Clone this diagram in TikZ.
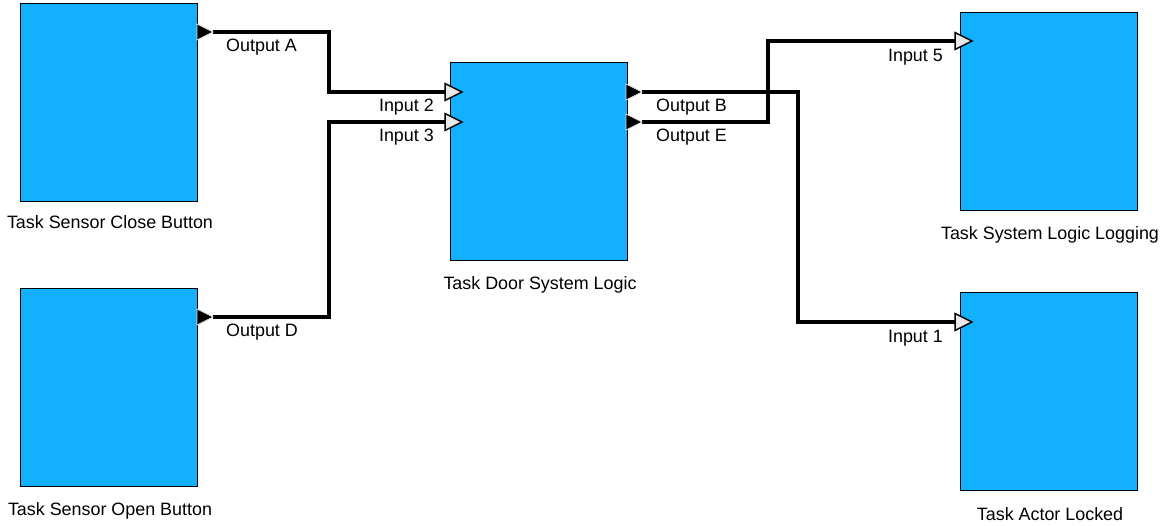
\documentclass[tikz,border=0pt]{standalone}
\usepackage{fontspec}
\setmainfont{Liberation Sans}
\definecolor{taskblue}{RGB}{18,176,255}
\definecolor{portgray}{RGB}{232,232,232}
\begin{document}
\begin{tikzpicture}[x=1pt,y=-1pt,font=\fontsize{17.9}{20}\selectfont,
  task/.style={draw=black,line width=1pt,fill=taskblue,minimum width=177pt,minimum height=198pt,inner sep=0pt,anchor=north west},
  lbl/.style={inner sep=0pt},
  wire/.style={draw=black,line width=3.5pt},
  outtri/.style={fill=black,draw=white!85!black,line width=0.8pt},
  intri/.style={fill=portgray,draw=black,line width=1.5pt,line join=miter}]
\useasboundingbox (0,0) rectangle (1169,526);
% boxes
\node[task] (close) at (20,3) {};
\node[task] (open) at (20,288) {};
\node[task] (door) at (450,62) {};
\node[task] (logging) at (960,12) {};
\node[task] (locked) at (960,292) {};
% task labels
\node[lbl,anchor=base] (lclose) at (110,229) {Task Sensor Close Button};
\node[lbl,anchor=base] (lopen) at (110,515) {Task Sensor Open Button};
\node[lbl,anchor=base] (ldoor) at (540,290) {Task Door System Logic};
\node[lbl,anchor=base] (llog) at (1050,240) {Task System Logic Logging};
\node[lbl,anchor=base] (llock) at (1050,520) {Task Actor Locked};
% port coordinates (output tips, input bases)
\coordinate (oA) at (213,32);
\coordinate (oD) at (213,317);
\coordinate (oB) at (642,92);
\coordinate (oE) at (642,122);
\coordinate (i2) at (445,92);
\coordinate (i3) at (445,122);
\coordinate (i5) at (955,41);
\coordinate (i1) at (955,322);
% connectors
\draw[wire] (oA) -- (329,32) |- (i2);
\draw[wire] (oD) -- (329,317) |- (i3);
\draw[wire] (oB) -- (798,92) |- (i1);
\draw[wire] (oE) -- (768,122) |- (i5);
% output ports
\foreach \p in {oA,oD,oB,oE}
  \path[outtri] ([xshift=-16pt,yshift=8pt]\p) -- (\p) -- ([xshift=-16pt,yshift=-8pt]\p) -- cycle;
% input ports
\foreach \p in {i2,i3,i5,i1}
  \path[intri] ([yshift=8.5pt]\p) -- ([xshift=17pt]\p) -- ([yshift=-8.5pt]\p) -- cycle;
% port labels
\node[lbl,anchor=base west] (tA) at (226,52) {Output A};
\node[lbl,anchor=base west] (tD) at (226,337) {Output D};
\node[lbl,anchor=base east] (t2) at (434,112) {Input 2};
\node[lbl,anchor=base east] (t3) at (434,142) {Input 3};
\node[lbl,anchor=base west] (tB) at (656,112) {Output B};
\node[lbl,anchor=base west] (tE) at (656,142) {Output E};
\node[lbl,anchor=base east] (t5) at (943,62) {Input 5};
\node[lbl,anchor=base east] (t1) at (943,342) {Input 1};
\end{tikzpicture}
\end{document}
